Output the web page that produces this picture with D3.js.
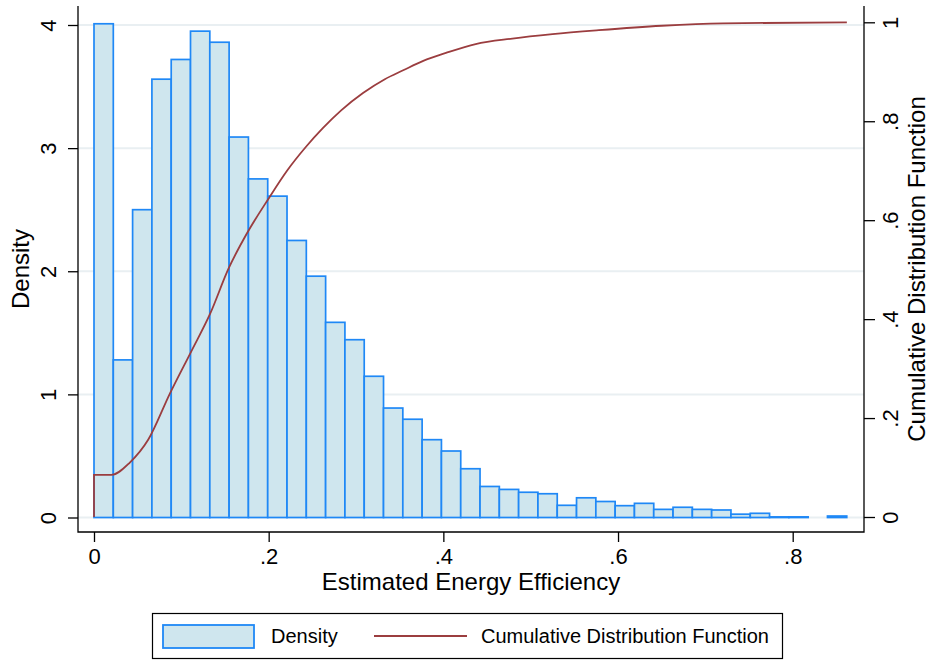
<!DOCTYPE html>
<html>
<head>
<meta charset="utf-8">
<script src="https://cdn.jsdelivr.net/npm/d3@7"></script>
<style>
  body { margin:0; background:#fff; }
  text { font-family: "Liberation Sans", Arial, Helvetica, sans-serif; fill:#000; }
</style>
</head>
<body>
<div class="canvas"></div>
<script>
// histogram bins: width of each bin and the density
const binWidth = 0.0221;
const density = [4.01, 1.28, 2.50, 3.56, 3.72, 3.95, 3.86, 3.09, 2.75, 2.61,
                 2.25, 1.96, 1.585, 1.444, 1.147, 0.889, 0.798, 0.632, 0.540, 0.396,
                 0.252, 0.228, 0.205, 0.193, 0.099, 0.160, 0.130, 0.096, 0.115, 0.066,
                 0.083, 0.066, 0.061, 0.027, 0.034, 0.005, 0.005, 0, 0.012];

// cumulative distribution
const cdfX = [0, 0, 0.020, 0.041, 0.062, 0.087, 0.112, 0.133, 0.154, 0.175, 0.200,
              0.221, 0.243, 0.262, 0.283, 0.308, 0.333, 0.354, 0.377, 0.403, 0.437,
              0.479, 0.525, 0.578, 0.650, 0.720, 0.862];
const cdfY = [0, 0.085, 0.085, 0.110, 0.156, 0.250, 0.337, 0.411, 0.502, 0.573, 0.644,
              0.700, 0.749, 0.786, 0.822, 0.857, 0.885, 0.903, 0.922, 0.938, 0.956,
              0.967, 0.976, 0.984, 0.993, 0.998, 1.0];

// tick labels
const xTicks = [0, 0.2, 0.4, 0.6, 0.8];
const yLeftTicks = [0, 1, 2, 3, 4];
const yRightTicks = [0, 0.2, 0.4, 0.6, 0.8, 1];

const fmt = d => String(d).replace(/^0\./, '.'); //stata style: .2 not 0.2

const width = 931, height = 660;
const frame = { left:78, right:864, top:6, bottom:532 }; //plot region box

const svg = d3.select('.canvas')
              .append('svg')
              .attr('width', width)
              .attr('height', height);

// scales
const x = d3.scaleLinear().domain([0, 0.8]).range([94, 792.7]);
const yL = d3.scaleLinear().domain([0, 4]).range([517.5, 25]);
const yR = d3.scaleLinear().domain([0, 1]).range([517, 22.3]);

const fill = '#cfe6ee', edge = '#1f88f6', cdfColor = '#9b3d3f';

// gridlines from the left axis
svg.append('g')
   .selectAll('line')
   .data(yLeftTicks)
   .enter().append('line')
     .attr('x1', frame.left).attr('x2', frame.right)
     .attr('y1', d => yL(d)).attr('y2', d => yL(d))
     .attr('stroke', '#e9eff2')
     .attr('stroke-width', 2);

// bars (empty bins are not drawn)
const bins = density.map((d, i) => ({ x0: i * binWidth, x1: (i + 1) * binWidth, d: d }))
                    .filter(b => b.d > 0);

svg.append('g')
   .selectAll('rect')
   .data(bins)
   .enter().append('rect')
     .attr('x', b => x(b.x0))
     .attr('width', b => x(b.x1) - x(b.x0))
     .attr('y', b => yL(b.d))
     .attr('height', b => yL(0) - yL(b.d))
     .attr('fill', fill)
     .attr('stroke', edge)
     .attr('stroke-width', 1.7);

// cdf line
const line = d3.line()
               .x((d, i) => x(cdfX[i]))
               .y(d => yR(d))
               .curve(d3.curveMonotoneX);

svg.append('path')
   .datum(cdfY)
   .attr('fill', 'none')
   .attr('stroke', cdfColor)
   .attr('stroke-width', 1.8)
   .attr('d', line);

// frame: left, bottom and right axis lines
svg.append('path')
   .attr('d', `M${frame.left},${frame.top}V${frame.bottom}H${frame.right}V${frame.top}`)
   .attr('fill', 'none')
   .attr('stroke', '#000')
   .attr('stroke-width', 1.3);

// axes
const xAxis = d3.axisBottom(x).tickValues(xTicks).tickFormat(fmt).tickSize(10).tickSizeOuter(0).tickPadding(6);
const xAxisGroup = svg.append('g')
                      .attr('transform', `translate(0, ${frame.bottom})`)
                      .call(xAxis);

const yAxisL = d3.axisLeft(yL).tickValues(yLeftTicks).tickFormat(fmt).tickSize(10).tickSizeOuter(0);
const yAxisGroupL = svg.append('g')
                       .attr('transform', `translate(${frame.left}, 0)`)
                       .call(yAxisL);

const yAxisR = d3.axisRight(yR).tickValues(yRightTicks).tickFormat(fmt).tickSize(11).tickSizeOuter(0);
const yAxisGroupR = svg.append('g')
                       .attr('transform', `translate(${frame.right}, 0)`)
                       .call(yAxisR);

[xAxisGroup, yAxisGroupL, yAxisGroupR].forEach(g => {
  g.select('.domain').remove();
  g.selectAll('line').attr('stroke', '#000').attr('stroke-width', 1.3);
  g.selectAll('text').style('font-size', '22px').attr('font-family', null);
});

// y labels are vertical, reading upwards
yAxisGroupL.selectAll('text')
           .attr('x', null).attr('dy', null)
           .attr('text-anchor', 'middle')
           .attr('transform', 'translate(-22, 0) rotate(-90)');

yAxisGroupR.selectAll('text')
           .attr('x', null).attr('dy', null)
           .attr('text-anchor', 'middle')
           .attr('transform', 'translate(34, 0) rotate(-90)');

// axis titles
svg.append('text')
   .attr('x', (frame.left + frame.right) / 2)
   .attr('y', 590)
   .attr('text-anchor', 'middle')
   .style('font-size', '24px')
   .text('Estimated Energy Efficiency');

svg.append('text')
   .attr('transform', `translate(29, ${(frame.top + frame.bottom) / 2}) rotate(-90)`)
   .attr('text-anchor', 'middle')
   .style('font-size', '24px')
   .text('Density');

svg.append('text')
   .attr('transform', `translate(925, ${(frame.top + frame.bottom) / 2}) rotate(-90)`)
   .attr('text-anchor', 'middle')
   .style('font-size', '24px')
   .text('Cumulative Distribution Function');

// legend
const legend = svg.append('g');

legend.append('rect')
      .attr('x', 152.5).attr('y', 613.5)
      .attr('width', 630).attr('height', 45)
      .attr('fill', '#fff')
      .attr('stroke', '#000')
      .attr('stroke-width', 1.2);

legend.append('rect')
      .attr('x', 163).attr('y', 625)
      .attr('width', 91).attr('height', 23)
      .attr('fill', fill)
      .attr('stroke', edge)
      .attr('stroke-width', 1.8);

legend.append('text')
      .attr('x', 271).attr('y', 643)
      .style('font-size', '20px')
      .text('Density');

legend.append('line')
      .attr('x1', 374).attr('x2', 467)
      .attr('y1', 636).attr('y2', 636)
      .attr('stroke', cdfColor)
      .attr('stroke-width', 2);

legend.append('text')
      .attr('x', 481).attr('y', 643)
      .style('font-size', '20px')
      .text('Cumulative Distribution Function');
</script>
</body>
</html>
